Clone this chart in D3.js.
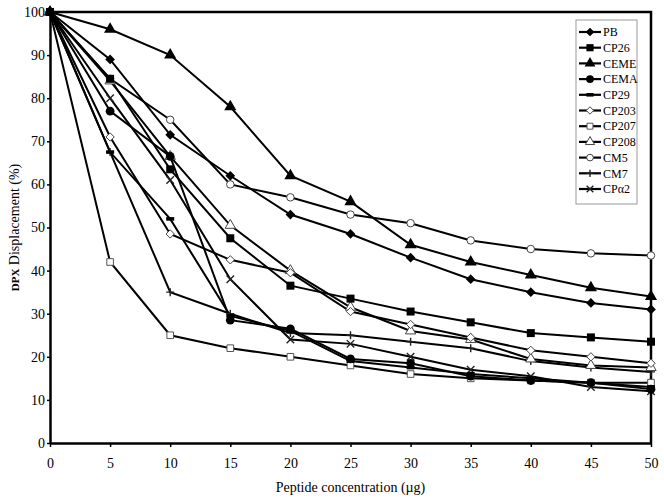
<!DOCTYPE html>
<html>
<head>
<meta charset="utf-8">
<script src="https://cdn.jsdelivr.net/npm/d3@7"></script>
<style>
  body { margin: 0; background: #fff; }
  svg { display: block; font-family: 'Liberation Serif', 'Times New Roman', serif; }
</style>
</head>
<body>
<div id="chart"></div>
<script>
// peptide concentration (µg)
var concs = [0, 5, 10, 15, 20, 25, 30, 35, 40, 45, 50]
var yTicks = [0, 10, 20, 30, 40, 50, 60, 70, 80, 90, 100]

// DPX displacement (%) per peptide
var names = ['PB', 'CP26', 'CEME', 'CEMA', 'CP29', 'CP203', 'CP207', 'CP208', 'CM5', 'CM7', 'CP\u03b12']
var PB    = [100, 89, 71.5, 62, 53, 48.5, 43, 38, 35, 32.5, 31]
var CP26  = [100, 84.5, 63.5, 47.5, 36.5, 33.5, 30.5, 28, 25.5, 24.5, 23.5]
var CEME  = [100, 96, 90, 78, 62, 56, 46, 42, 39, 36, 34]
var CEMA  = [100, 77, 66.5, 28.5, 26.5, 19.5, 18.5, 15.5, 14.5, 14, 12.5]
var CP29  = [100, 67.5, 52, 29.5, 26, 19, 17.5, 16, 15, 14, 13]
var CP203 = [100, 71, 48.5, 42.5, 39.5, 30.5, 27.5, 24.5, 21.5, 20, 18.5]
var CP207 = [100, 42, 25, 22, 20, 18, 16, 15, 14.5, 14, 14]
var CP208 = [100, 84, 66.5, 50.5, 40, 31.5, 26, 24, 19.5, 18, 17.5]
var CM5   = [100, 84.5, 75, 60, 57, 53, 51, 47, 45, 44, 43.5]
var CM7   = [100, 67.5, 35, 30, 25.5, 25, 23.5, 22, 19, 17.5, 16.5]
var CPa2  = [100, 80, 61, 38, 24, 23, 20, 17, 15.5, 13, 12]

var seriesValues = [PB, CP26, CEME, CEMA, CP29, CP203, CP207, CP208, CM5, CM7, CPa2]

var width = 664, height = 498
var plotL = 50, plotR = 651, plotT = 12, plotB = 443

var svg = d3.select('#chart').append('svg')
  .attr('width', width)
  .attr('height', height)

var x = d3.scaleLinear().domain([0, 50]).range([plotL, plotR])
var y = d3.scaleLinear().domain([0, 100]).range([plotB, plotT])

// 横棒マーカー (CP29)
var dash = { draw: function(ctx, size) {
  var w = Math.sqrt(size) / 2, h = 1.8
  ctx.moveTo(-w, -h); ctx.lineTo(w, -h); ctx.lineTo(w, h); ctx.lineTo(-w, h); ctx.closePath()
}}
// 十字 (CM7)
var plus = { draw: function(ctx, size) {
  var r = Math.sqrt(size) / 2
  ctx.moveTo(-r, 0); ctx.lineTo(r, 0); ctx.moveTo(0, -r); ctx.lineTo(0, r)
}}
// バツ (CPα2)
var cross = { draw: function(ctx, size) {
  var r = Math.sqrt(size) / 2
  ctx.moveTo(-r, -r); ctx.lineTo(r, r); ctx.moveTo(-r, r); ctx.lineTo(r, -r)
}}

var markers = [
  { type: d3.symbolDiamond2, size: 60, fill: '#000', stroke: 'none' },
  { type: d3.symbolSquare, size: 64, fill: '#000', stroke: 'none' },
  { type: d3.symbolTriangle, size: 64, fill: '#000', stroke: 'none' },
  { type: d3.symbolCircle, size: 60, fill: '#000', stroke: 'none' },
  { type: dash, size: 64, fill: '#000', stroke: 'none' },
  { type: d3.symbolDiamond2, size: 44, fill: '#fff', stroke: '#444' },
  { type: d3.symbolSquare, size: 44, fill: '#fff', stroke: '#555' },
  { type: d3.symbolTriangle, size: 46, fill: '#fff', stroke: '#444' },
  { type: d3.symbolCircle, size: 44, fill: '#fff', stroke: '#444' },
  { type: plus, size: 64, fill: 'none', stroke: '#222' },
  { type: cross, size: 56, fill: 'none', stroke: '#222' }
]

var series = names.map(function(n, i) {
  return { name: n, values: seriesValues[i], marker: markers[i] }
})

// axes
svg.append('g')
  .attr('transform', 'translate(0,' + plotB + ')')
  .call(d3.axisBottom(x).tickValues(concs).tickSize(4).tickPadding(11).tickSizeOuter(0))
svg.append('g')
  .attr('transform', 'translate(' + plotL + ',0)')
  .call(d3.axisLeft(y).tickValues(yTicks).tickSize(3).tickPadding(2).tickSizeOuter(0))

svg.selectAll('.domain').attr('stroke', '#000').attr('stroke-width', 2.5)
svg.selectAll('.tick line').attr('stroke', '#000').attr('stroke-width', 1.5)
svg.selectAll('.tick text')
  .attr('font-family', "'Liberation Serif', serif")
  .attr('font-size', 14)
  .attr('fill', '#000')

// top / right frame
svg.append('path')
  .attr('d', 'M' + plotL + ',' + plotT + 'H' + plotR + 'V' + plotB)
  .attr('fill', 'none')
  .attr('stroke', '#000')
  .attr('stroke-width', 2.5)

// lines
var line = d3.line()
  .x(function(d, i) { return x(concs[i]) })
  .y(function(d) { return y(d) })

var g = svg.append('g')
g.selectAll('.series')
  .data(series)
  .enter()
  .append('path')
  .attr('class', 'series')
  .attr('d', function(s) { return line(s.values) })
  .attr('fill', 'none')
  .attr('stroke', '#000')
  .attr('stroke-width', 2)

// markers: 白抜きを先に、塗りつぶしを上に描く
series.slice().reverse().forEach(function(s) {
  var sym = d3.symbol().type(s.marker.type).size(s.marker.size)
  g.selectAll(null)
    .data(s.values)
    .enter()
    .append('path')
    .attr('d', sym)
    .attr('transform', function(d, i) { return 'translate(' + x(concs[i]) + ',' + y(d) + ')' })
    .attr('fill', s.marker.fill)
    .attr('stroke', s.marker.stroke)
    .attr('stroke-width', s.marker.fill === 'none' ? 1.4 : 1)
})

// axis titles
svg.append('text')
  .attr('x', (plotL + plotR) / 2)
  .attr('y', 492)
  .attr('text-anchor', 'middle')
  .attr('font-size', 14)
  .text('Peptide concentration (\u00b5g)')

var yt = svg.append('text')
  .attr('transform', 'translate(19,' + ((plotT + plotB) / 2) + ') rotate(-90)')
  .attr('text-anchor', 'middle')
  .attr('font-size', 14)
yt.append('tspan').attr('font-size', 11).attr('font-weight', 'bold').text('DPX')
yt.append('tspan').text(' Displacement (%)')

// legend
var legend = svg.append('g').attr('transform', 'translate(576,20)')
legend.append('rect')
  .attr('width', 61)
  .attr('height', 184)
  .attr('fill', '#fff')
  .attr('stroke', '#999')
  .attr('stroke-width', 1)

var item = legend.selectAll('.item')
  .data(series)
  .enter()
  .append('g')
  .attr('class', 'item')
  .attr('transform', function(d, i) { return 'translate(0,' + (12 + i * 15.7) + ')' })

item.append('line')
  .attr('x1', 3).attr('x2', 25)
  .attr('stroke', '#000')
  .attr('stroke-width', 2.2)

item.append('path')
  .attr('transform', 'translate(14,0)')
  .attr('d', function(s) { return d3.symbol().type(s.marker.type).size(s.marker.size * 0.8)() })
  .attr('fill', function(s) { return s.marker.fill })
  .attr('stroke', function(s) { return s.marker.stroke })
  .attr('stroke-width', function(s) { return s.marker.fill === 'none' ? 1.4 : 1 })

item.append('text')
  .attr('x', 27)
  .attr('dy', '0.35em')
  .attr('font-size', 12)
  .text(function(s) { return s.name })
</script>
</body>
</html>
